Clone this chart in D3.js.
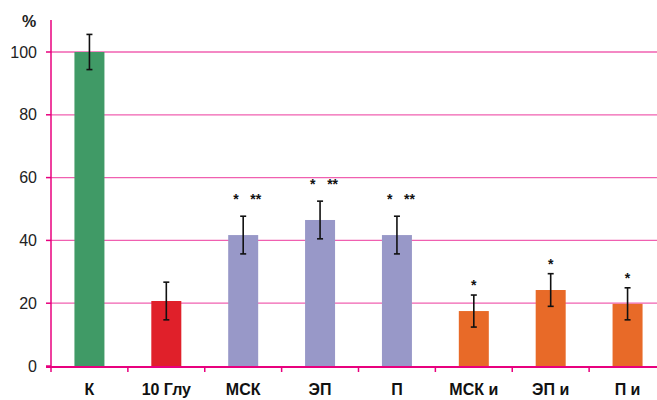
<!DOCTYPE html>
<html><head><meta charset="utf-8">
<script src="https://cdn.jsdelivr.net/npm/d3@7"></script>
<style>body{margin:0;background:#fff}svg{display:block}</style>
</head><body><svg id="c" width="657" height="400"></svg>
<script>
const categories = ["К","10 Глу","МСК","ЭП","П","МСК и","ЭП и","П и"];
const values = [100, 20.7, 41.7, 46.5, 41.7, 17.5, 24.2, 19.8];
const errors = [5.6, 6, 6, 6, 6, 5.1, 5.2, 5.1];
const marks = ["", "", "*   **", "*   **", "*   **", "*", "*", "*"];
const colors = ["#409a66","#e0202a","#9898c8","#9898c8","#9898c8","#e86a28","#e86a28","#e86a28"];
const yTicks = [0,20,40,60,80,100];

const svg = d3.select("#c");
const x = d3.scaleBand().domain(categories).range([51, 666]).paddingInner(0).paddingOuter(0);
const y = d3.scaleLinear().domain([0,100]).range([366, 52]);
const pink = "#e8007e";
const gridPink = "#f060b0";
const barW = 30;

svg.selectAll(".grid").data(yTicks.filter(d=>d>0)).join("line")
  .attr("x1",51).attr("x2",657).attr("y1",d=>y(d)).attr("y2",d=>y(d))
  .attr("stroke",gridPink).attr("stroke-width",1.3);

svg.selectAll(".bar").data(categories).join("rect")
  .attr("x",d=>x(d)+x.bandwidth()/2-barW/2).attr("width",barW)
  .attr("y",(d,i)=>y(values[i])).attr("height",(d,i)=>y(0)-y(values[i]))
  .attr("fill",(d,i)=>colors[i]);

const eg = svg.append("g").attr("stroke","#111").attr("stroke-width",1.6);
categories.forEach((c,i)=>{
  const cx = x(c)+x.bandwidth()/2;
  const t = y(values[i]+errors[i]), b = y(values[i]-errors[i]);
  eg.append("line").attr("x1",cx).attr("x2",cx).attr("y1",t).attr("y2",b);
  eg.append("line").attr("x1",cx-3).attr("x2",cx+3).attr("y1",t).attr("y2",t);
  eg.append("line").attr("x1",cx-3).attr("x2",cx+3).attr("y1",b).attr("y2",b);
  if (marks[i]) {
    const dbl = marks[i].length>1;
    svg.append("text").attr("x",cx+(dbl?4:0)).attr("y",t-(dbl?12:5))
      .attr("text-anchor","middle").attr("font-family","Liberation Sans, Arial, sans-serif")
      .attr("font-weight","bold").attr("font-size",14).attr("fill","#111")
      .style("white-space","pre").text(marks[i]);
  }
});

svg.append("line").attr("x1",51).attr("x2",51).attr("y1",20).attr("y2",368)
  .attr("stroke",pink).attr("stroke-width",1.5);
svg.selectAll(".yt").data(yTicks).join("line")
  .attr("x1",46).attr("x2",51).attr("y1",d=>y(d)).attr("y2",d=>y(d))
  .attr("stroke",pink).attr("stroke-width",1.5);
svg.selectAll(".yl").data(yTicks).join("text")
  .attr("x",37).attr("y",d=>y(d)+5.5).attr("text-anchor","end")
  .attr("font-family","Liberation Sans Narrow, Liberation Sans, Arial, sans-serif")
  .attr("font-size",16).attr("fill","#222").text(d=>d);
svg.append("text").attr("x",29).attr("y",27).attr("text-anchor","middle")
  .attr("font-family","Liberation Sans, Arial, sans-serif").attr("font-weight","bold")
  .attr("font-size",16).attr("fill","#222").text("%");

svg.append("line").attr("x1",46).attr("x2",657).attr("y1",367).attr("y2",367)
  .attr("stroke",pink).attr("stroke-width",1.8);
svg.selectAll(".xt").data(categories).join("line")
  .attr("x1",d=>x(d)).attr("x2",d=>x(d)).attr("y1",367).attr("y2",372)
  .attr("stroke",pink).attr("stroke-width",1.5);
svg.selectAll(".xl").data(categories).join("text")
  .attr("x",d=>x(d)+x.bandwidth()/2).attr("y",395).attr("text-anchor","middle")
  .attr("font-family","Liberation Sans Narrow, Liberation Sans, Arial, sans-serif")
  .attr("font-weight","bold").attr("font-size",16).attr("fill","#111").text(d=>d);
</script></body></html>
